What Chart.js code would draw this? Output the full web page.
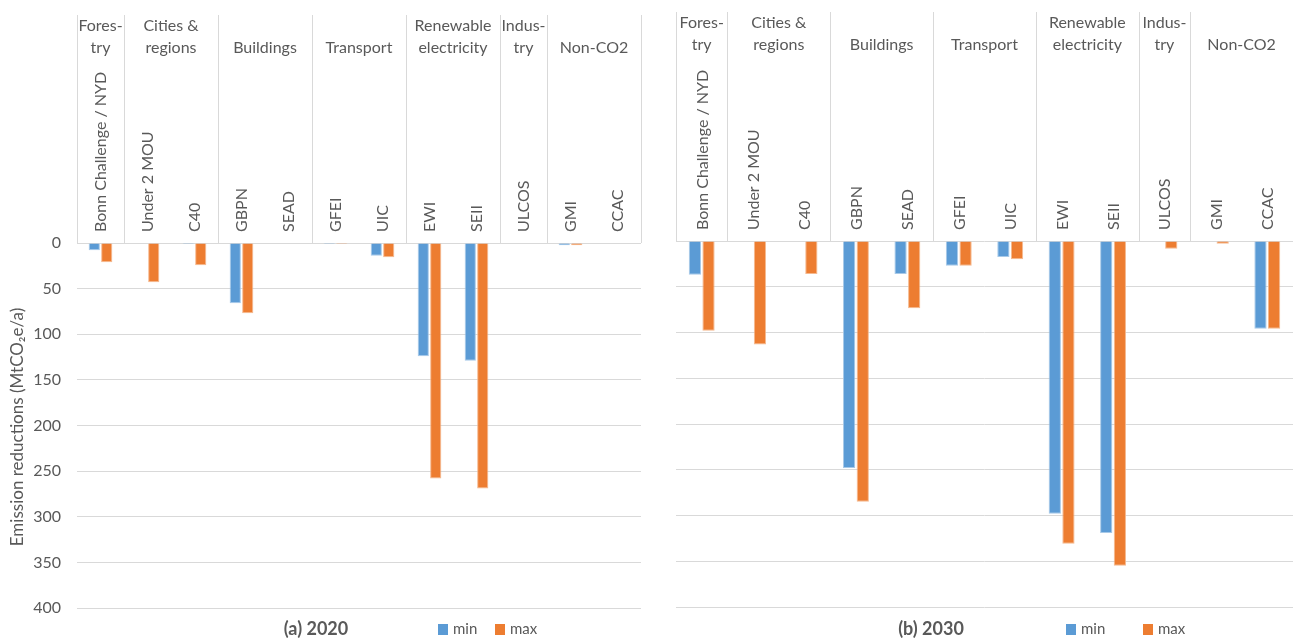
<!DOCTYPE html>
<html>
<head>
<meta charset="utf-8">
<script src="https://cdn.jsdelivr.net/npm/chart.js@4"></script>
<style>
  body { margin: 0; background: #fff; }
  #left { position: absolute; left: 0; top: 0; width: 660px; height: 642px; }
  #right { position: absolute; left: 660px; top: 0; width: 633px; height: 642px; }
</style>
</head>
<body>
<div id="left"><canvas id="chart2020"></canvas></div>
<div id="right"><canvas id="chart2030"></canvas></div>
<script>
var categories = ["Bonn Challenge / NYD", "Under 2 MOU", "C40", "GBPN", "SEAD", "GFEI",
                  "UIC", "EWI", "SEII", "ULCOS", "GMI", "CCAC"];
var groupNames = [["Fores-", "try"], ["Cities &", "regions"], ["Buildings"], ["Transport"],
                  ["Renewable", "electricity"], ["Indus-", "try"], ["Non-CO2"]];
var groupSizes = [1, 2, 2, 2, 2, 1, 2];
var seriesNames = ["min", "max"];

// emission reductions, MtCO2e/a (null = no bar)
var min2020 = [8, null, 1, 66, null, 1, 14, 124, 129, null, 2.5, null];
var max2020 = [21, 43, 24.5, 77, null, 1, 15.5, 258, 269, null, 2.5, null];
var min2030 = [37, null, null, 248, 36, 27, 17.5, 298, 319, null, null, 96];
var max2030 = [98, 113, 36, 285, 73.5, 27, 20, 331, 355, 8.5, 3, 96];

Chart.defaults.font.family = "Lato, 'Open Sans', sans-serif";
Chart.defaults.color = "#595959";

// group separators and group names above the category labels
var groupPlugin = {
  id: 'groups',
  afterDraw: function (chart, args, opts) {
    var x = chart.scales.x;
    var ctx = chart.ctx;
    var half = (x.getPixelForValue(1) - x.getPixelForValue(0)) / 2;
    var edges = [0];
    groupSizes.forEach(function (s) { edges.push(edges[edges.length - 1] + s); });
    ctx.save();
    ctx.strokeStyle = '#d9d9d9';
    ctx.lineWidth = 1;
    edges.forEach(function (e) {
      var px = Math.round(x.getPixelForValue(e) - half) + 0.5;
      ctx.beginPath();
      ctx.moveTo(px, x.top);
      ctx.lineTo(px, x.bottom);
      ctx.stroke();
    });
    ctx.fillStyle = '#595959';
    ctx.font = "16px Lato, 'Open Sans', sans-serif";
    ctx.textAlign = 'center';
    ctx.textBaseline = 'middle';
    groupNames.forEach(function (lines, g) {
      var cx = (x.getPixelForValue(edges[g]) + x.getPixelForValue(edges[g + 1])) / 2 - half;
      lines.forEach(function (line, i) {
        var y = x.top + opts.lastLine - (lines.length - 1 - i) * 22;
        ctx.fillText(line, cx, y);
      });
    });
    ctx.restore();
  }
};

// panel caption, legend and (left panel only) the value axis title
var captionPlugin = {
  id: 'caption',
  afterDraw: function (chart, args, opts) {
    var ctx = chart.ctx;
    ctx.save();
    ctx.textBaseline = 'middle';
    ctx.fillStyle = '#595959';
    ctx.font = "bold 18px Lato, 'Open Sans', sans-serif";
    ctx.textAlign = 'center';
    ctx.fillText(opts.text, opts.x, opts.y);
    ctx.font = "15px Lato, 'Open Sans', sans-serif";
    ctx.textAlign = 'left';
    chart.data.datasets.forEach(function (ds, i) {
      ctx.fillStyle = ds.backgroundColor;
      ctx.fillRect(opts.legendX[i], opts.y - 5, 10, 11);
      ctx.fillStyle = '#595959';
      ctx.fillText(ds.label, opts.legendX[i] + 15, opts.y);
    });
    if (opts.yTitle) {
      ctx.translate(18, 427);
      ctx.rotate(-Math.PI / 2);
      ctx.textAlign = 'center';
      ctx.font = "17px Lato, 'Open Sans', sans-serif";
      ctx.fillText(opts.yTitle, 0, 0);
    }
    ctx.restore();
  }
};

function makeChart(id, minData, maxData, cfg) {
  return new Chart(document.getElementById(id), {
    type: 'bar',
    data: {
      labels: categories,
      datasets: [
        { label: seriesNames[0], data: minData, backgroundColor: '#5b9bd5',
          borderColor: 'rgba(157,195,230,0.9)', borderWidth: 1 },
        { label: seriesNames[1], data: maxData, backgroundColor: '#ed7d31',
          borderColor: 'rgba(244,177,131,0.9)', borderWidth: 1 }
      ]
    },
    options: {
      responsive: true,
      maintainAspectRatio: false,
      animation: false,
      categoryPercentage: 0.53,
      barPercentage: 0.9,
      layout: { padding: cfg.padding },
      plugins: {
        legend: { display: false },
        tooltip: { enabled: false },
        groups: { lastLine: cfg.lastLine },
        caption: { text: cfg.caption, x: cfg.captionX, y: 629, legendX: cfg.legendX,
                   yTitle: cfg.yTitle }
      },
      scales: {
        x: {
          position: 'top',
          grid: { display: false, drawTicks: false },
          border: { display: false },
          ticks: { autoSkip: false, minRotation: 90, maxRotation: 90, padding: 11,
                   labelOffset: 20, font: { size: 16 }, color: '#595959' },
          afterFit: function (scale) { scale.height = cfg.axisHeight; }
        },
        y: {
          reverse: true,
          min: 0,
          max: 400,
          grid: { color: '#d9d9d9', drawTicks: false },
          border: { display: false },
          ticks: { display: cfg.showTicks, stepSize: 50, padding: 16,
                   font: { size: 16 }, color: '#595959' },
          afterFit: function (scale) { scale.width = cfg.yWidth; }
        }
      }
    },
    plugins: [groupPlugin, captionPlugin]
  });
}

var chart2020 = makeChart('chart2020', min2020, max2020, {
  padding: { top: 15, bottom: 34, left: 0, right: 19 },
  axisHeight: 228, yWidth: 77, showTicks: true, lastLine: 33,
  caption: '(a) 2020', captionX: 316, legendX: [438, 495],
  yTitle: 'Emission reductions (MtCO\u2082e/a)'
});

var chart2030 = makeChart('chart2030', min2030, max2030, {
  padding: { top: 12, bottom: 35, left: 0, right: 0 },
  axisHeight: 229, yWidth: 16, showTicks: false, lastLine: 33,
  caption: '(b) 2030', captionX: 271, legendX: [406, 483]
});
</script>
</body>
</html>
